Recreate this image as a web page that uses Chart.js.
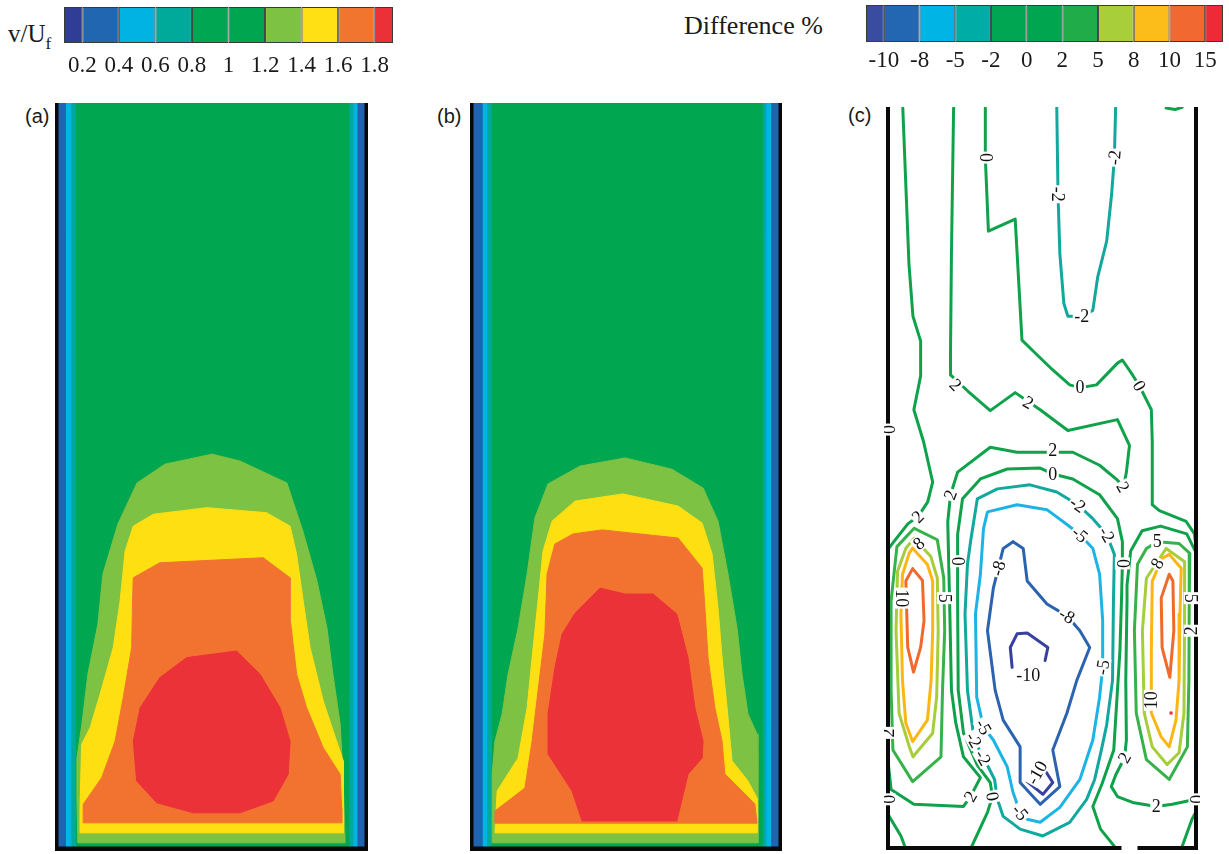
<!DOCTYPE html>
<html><head><meta charset="utf-8"><title>Velocity contours</title>
<script src="https://cdn.jsdelivr.net/npm/chart.js@4.4.1/dist/chart.umd.min.js"></script>
<style>
html,body{margin:0;padding:0;background:#fff}
body{width:1229px;height:854px;position:relative;overflow:hidden}
canvas,.t{position:absolute}
.serif{font-family:"Liberation Serif","Times New Roman",serif;color:#1a1a1a;line-height:1;white-space:nowrap}
.sans{font-family:"Liberation Sans",Arial,sans-serif;color:#1a1a1a;line-height:1;white-space:nowrap}
</style></head><body>
<div class="t serif" style="left:8px;top:21px;font-size:25px">v/U<span style="font-size:17px;position:relative;top:7px">f</span></div>
<div class="t serif" style="left:684px;top:13px;font-size:26px">Difference %</div>
<div class="t sans" style="left:25px;top:106px;font-size:20px">(a)</div>
<div class="t sans" style="left:437px;top:106px;font-size:20px">(b)</div>
<div class="t sans" style="left:848px;top:105px;font-size:20px">(c)</div>
<canvas id="cb1" width="329" height="66" style="left:64px;top:7px"></canvas>
<canvas id="cb2" width="357" height="67" style="left:866px;top:5px"></canvas>
<canvas id="pa" width="313" height="748" style="left:55px;top:103px"></canvas>
<canvas id="pb" width="312" height="748" style="left:470px;top:103px"></canvas>
<canvas id="pc" width="316" height="750" style="left:884px;top:103px"></canvas>
<script>
// ---------------- data ----------------
// all panels: x = % of column width (0-100), y = height in % of column width
const Y_MAX = 239;

// colour bars
const speedTicks = ['0.2','0.4','0.6','0.8','1','1.2','1.4','1.6','1.8'];
const speedColors = ['#2f3d94','#2166b1','#00b3e3','#00aa9a','#00a651','#00a54f','#7dc242','#fee014','#f1742f','#ec3038'];
const diffTicks = ['-10','-8','-5','-2','0','2','5','8','10','15'];
const diffColors = ['#394ca0','#2367b2','#00b5e5','#00aca6','#00a651','#00a54f','#21ac4a','#a8cf3a','#fcbd1a','#f16931','#ec2b36'];

// panel (a): filled contour regions v/Uf
const a_wallLeft = [6.4, 5.0, 3.2];      // outer edge of 0.6-0.8, 0.4-0.6, 0.2-0.4 bands
const a_wallRight = [94.2, 95.5, 96.8];
const a_band12 = [[7.3,2.6],[7.0,16.0],[7.0,29.7],[8.6,40.6],[10.5,56.5],[13.7,72.5],[15.3,88.5],[20.1,104.5],[26.2,117.6],[35.1,123.6],[50.2,126.8],[59.1,124.6],[74.1,117.6],[79.2,102.2],[83.7,86.3],[86.9,71.2],[88.8,56.5],[91.1,40.6],[92.0,24.6],[92.7,2.6]];
const a_band14 = [[8.0,5.8],[8.0,13.8],[8.5,34.1],[11.2,39.4],[14.4,50.1],[18.6,65.0],[20.8,79.9],[22.4,95.8],[25.0,103.8],[31.4,107.6],[48.5,109.7],[67.6,108.1],[75.1,103.8],[77.2,94.8],[79.3,79.9],[81.5,65.0],[85.7,47.9],[88.9,38.3],[92.1,28.8],[92.1,5.8]];
const a_band16 = [[9.0,9.0],[9.0,14.9],[14.9,23.4],[19.2,35.1],[21.8,49.0],[24.5,65.0],[24.8,80.9],[25.0,87.3],[33.5,92.1],[66.5,93.7],[75.1,87.3],[75.1,74.5],[77.2,56.5],[80.4,45.8],[85.7,33.0],[91.1,24.5],[91.6,13.8],[91.6,9.0]];
const a_band18 = [[42.1,61.8],[58.0,63.9],[65.5,56.5],[71.9,45.8],[75.1,35.1],[74.5,24.5],[69.7,16.0],[59.1,12.2],[44.2,12.2],[32.5,15.4],[26.1,22.4],[25.0,35.1],[27.2,45.8],[33.5,55.4]];

// panel (b)
const b_wallLeft = [6.7, 5.3, 3.8];
const b_wallRight = [94.0, 95.1, 96.7];
const b_band12 = [[7.1,2.6],[7.1,24.6],[8.0,35.1],[10.3,43.8],[12.2,56.5],[15.4,71.2],[18.3,88.5],[20.8,106.4],[25.0,117.3],[35.3,123.0],[49.7,125.6],[64.7,122.0],[74.7,116.0],[79.5,105.4],[82.7,88.5],[85.6,71.2],[87.2,56.5],[89.1,43.8],[92.0,37.4],[92.3,24.6],[92.3,2.6]];
const b_band14 = [[8.0,5.8],[8.7,19.2],[15.4,29.7],[18.3,45.7],[19.9,61.7],[21.8,79.9],[23.4,95.8],[26.3,105.4],[33.7,111.8],[49.0,114.1],[66.7,110.2],[74.4,104.8],[77.6,94.9],[79.5,77.6],[80.8,61.7],[82.4,45.7],[84.0,28.8],[89.1,22.4],[92.0,16.9],[92.0,5.8]];
const b_band16 = [[8.0,8.9],[8.0,12.8],[17.6,20.1],[19.9,35.1],[21.8,51.1],[24.0,69.3],[24.7,88.5],[27.2,98.1],[33.0,101.3],[42.3,102.6],[66.7,100.0],[74.4,90.4],[75.3,77.6],[76.3,61.7],[78.5,45.7],[80.8,35.1],[81.7,24.6],[91.3,15.0],[92.0,8.9]];
const b_band18 = [[41.7,84.0],[49.7,82.1],[58.7,82.1],[66.3,75.7],[69.9,61.7],[72.1,45.7],[74.7,35.1],[74.4,29.7],[69.9,24.6],[66.3,9.6],[35.9,9.6],[32.7,19.2],[25.0,31.0],[25.0,43.8],[27.2,58.5],[29.5,69.3],[33.7,76.0]];

// panel (c): difference contour lines
const c_line2 = [[21.3,238.7],[20.6,191.7],[20.3,160.7],[20.3,152.7],[25.8,147.6],[33.2,141.2],[41.3,147.0],[49.4,141.5],[58.4,134.8],[74.5,138.3],[78.4,130.0],[77.4,121.4],[76.5,116.6],[74.5,118.8],[68.7,123.6],[60.0,127.8],[41.9,127.8],[33.2,129.4],[22.6,121.4],[20.3,114.1],[19.4,105.4],[20.0,79.9],[20.6,51.1],[22.0,40.6],[24.5,29.7],[30.0,23.0],[26.8,16.9],[24.5,13.7],[8.4,14.4],[1.0,19.2],[0,28.4],[0,96.5],[1.9,99.0],[6.5,104.8],[9.7,107.0],[12.9,111.8],[14.5,118.2],[11.6,131.0],[8.4,141.5],[10.6,152.4],[10.6,163.6],[8.1,171.6],[6.8,188.5],[4.8,238.7]];
const c_line0 = [[31.6,238.7],[31.6,222.7],[32.6,199.0],[41.3,202.9],[43.5,163.9],[47.1,160.4],[53.5,154.3],[59.0,149.5],[62.3,148.6],[67.7,149.5],[74.5,156.5],[76.1,157.5],[79.4,152.7],[81.6,149.2],[85.5,141.5],[85.8,131.0],[85.8,110.9],[88.1,109.0],[96.8,105.5],[99.5,101.5],[100,97]];
const c_line0Inner = [[26.8,0],[32.3,11.8],[33.9,16.9],[33.2,21.4],[29.0,27.0],[24.5,37.4],[22.8,51.1],[22.6,79.9],[22.6,92.7],[22.6,101.3],[24.2,112.8],[30.0,119.2],[38.7,122.4],[49.4,122.7],[53.5,120.8],[60.0,119.2],[68.7,114.1],[74.5,106.4],[76.1,99.0],[76.1,92.0],[75.8,79.9],[75.3,63.9],[74.5,51.1],[73.3,31.9],[69.5,21.0],[66.5,13.7],[69.0,6.4],[74.2,0]];
const c_line0Left = [[0,11.2],[4.2,4.2],[5.8,0]];
const c_line0Right = [[100,12.0],[98.7,9.6],[95.2,0]];
const c_line2Right = [[100,95.5],[97.0,101.5],[88.5,104.0],[82.5,102.5],[78.8,96.0],[77.6,85.0],[77.6,79.9],[77.2,54.3],[77.4,35.1],[76.8,29.4],[74.0,24.0],[72.5,20.1],[74.5,16.9],[79.4,15.0],[87.1,13.7],[92.3,14.4],[100,16.0]];
const c_topStub = [[90.3,238.7],[93.2,238.2],[95.5,238.9]];
const c_lineM2Top = [[54.8,238.7],[55.2,210.9],[55.8,191.7],[57.1,175.7],[58.4,171.6],[62.9,171.6],[66.5,173.5],[68.1,184.3],[71.0,195.8],[72.6,210.9],[73.5,222.7],[73.9,238.7]];
const c_loopM2 = [[26.8,99.0],[29.0,112.8],[35.5,116.0],[46.1,117.3],[54.8,115.0],[61.6,110.9],[66.5,106.4],[71.0,101.3],[73.5,94.9],[73.2,79.9],[72.9,54.3],[71.0,40.0],[69.3,32.0],[67.1,22.4],[64.5,16.0],[59.0,8.6],[50.3,4.2],[42.9,6.4],[37.4,10.5],[35.5,16.0],[34.6,22.4],[31.5,28.5],[28.0,35.1],[25.8,51.1],[25.0,75.7],[25.8,91.7],[26.8,99.0]];
const c_loopM5 = [[31.0,103.2],[32.3,108.6],[41.9,110.9],[51.6,109.3],[58.1,104.5],[62.3,101.3],[66.5,96.8],[68.7,88.5],[69.7,73.5],[69.7,58.5],[68.7,48.9],[66.5,35.1],[62.3,22.4],[55.8,13.4],[49.4,8.6],[45.2,9.6],[42.9,11.8],[40.6,18.2],[38.7,26.5],[34.2,35.1],[31.0,39.3],[28.8,48.9],[28.4,75.7],[30.0,88.5],[31.0,103.2]];
const c_loopM8 = [[40.6,99.0],[43.9,96.8],[45.2,86.3],[51.6,78.9],[58.1,75.1],[62.3,70.3],[65.5,64.9],[61.3,54.3],[58.1,43.8],[53.5,31.9],[55.8,20.1],[49.4,14.4],[42.9,21.4],[42.9,32.9],[37.4,41.5],[34.8,51.1],[32.3,70.3],[34.2,84.0],[35.8,90.4],[37.4,96.8],[40.6,99.0]];
const c_loopM10Upper = [[40.3,58.5],[39.7,64.9],[41.9,69.3],[45.2,69.6],[51.9,64.9],[51.0,60.7]];
const c_loopM10Lower = [[45.2,21.7],[49.4,27.8],[53.5,21.4],[50.3,17.6],[45.2,21.7]];
const c_left5 = [[8.5,103.3],[16.0,99.6],[18.1,87.3],[18.4,70.3],[17.7,51.1],[17.2,29.7],[8.0,21.7],[1.6,31.9],[1.0,51.1],[1.0,79.9],[2.9,97.4],[8.5,103.3]];
const c_left8 = [[8.5,100.1],[13.9,94.2],[16.0,87.3],[16.3,70.3],[15.8,49.0],[14.5,37.3],[8.1,29.7],[6.9,33.0],[3.6,43.7],[2.6,70.3],[3.1,89.5],[5.8,96.9],[8.5,100.1]];
const c_left10 = [[8.0,96.9],[12.8,91.6],[14.5,86.3],[14.5,70.3],[14.0,54.3],[12.8,41.5],[8.0,34.6],[5.8,40.5],[4.7,54.3],[4.2,75.6],[4.7,88.4],[6.9,95.3],[8.0,96.9]];
const c_left15 = [[8.0,90.3],[11.2,86.5],[11.7,73.5],[10.6,65.0],[8.3,57.0],[6.4,65.0],[5.8,86.3],[8.0,90.3]];
const c_right5 = [[83.9,96.8],[87.4,99.0],[94.5,98.4],[98.0,95.2],[97.8,79.9],[97.7,54.3],[97.2,32.9],[91.3,22.4],[83.9,28.8],[80.6,43.8],[80.0,70.3],[81.0,91.7],[83.9,96.8]];
const c_right8 = [[90.3,96.8],[96.3,92.5],[96.3,75.7],[96.1,43.8],[94.5,31.0],[90.6,27.2],[85.8,32.9],[83.2,43.8],[82.6,70.3],[83.9,87.2],[90.3,96.8]];
const c_right10 = [[91.3,94.9],[95.2,90.4],[94.8,75.7],[94.5,54.3],[93.5,41.5],[91.3,32.9],[88.7,36.1],[85.5,43.8],[85.5,64.9],[85.8,86.3],[89.0,93.6],[91.3,94.9]];
const c_right15 = [[91.3,88.5],[92.5,86.3],[92.8,70.3],[91.5,55.3],[89.0,64.9],[88.7,80.8],[91.3,88.5]];
const c_redSpot = [[91.9,43.8]];
const c_bottomGap = [75.8, 81.0];
// contour labels: text, x, y, rotation (deg)
const c_labels = [
  ['0',31.6,222.7,90],['-2',55.2,210.9,90],['-2',73.5,222.7,-85],['-2',62.9,171.6,0],
  ['2',21.9,149.5,45],['2',45.5,143.8,30],['0',62.3,148.6,0],['0',81.6,149.2,60],
  ['0',0,135.1,90],['2',53.5,128.4,0],['2',76.3,116.6,60],['2',20.3,114.1,-70],
  ['2',9.7,107.0,-45],['0',53.5,120.8,0],['-2',61.6,110.9,35],['-2',71.0,101.3,60],
  ['-5',62.3,101.3,40],['0',22.6,92.7,90],['0',76.1,92.0,90],['-8',35.8,90.4,-75],
  ['-8',58.1,75.1,30],['8',10.0,98.4,-40],['5',87.4,99.0,0],['8',87.4,92.0,-60],
  ['10',4.4,80.8,90],['5',18.3,80.8,90],['5',98.4,80.8,90],['2',98.4,70.3,-90],
  ['-10',45.5,56.0,0],['-5',69.7,58.5,-80],['10',85.5,47.9,-90],['2',0,37.4,-90],
  ['-5',31.0,39.3,60],['-2',27.8,35.1,60],['-2',30.8,29.4,60],['2',76.8,29.4,-60],
  ['-10',48.4,24.6,-60],['0',33.9,16.9,80],['2',26.8,16.9,-60],['-5',42.9,11.8,50],
  ['2',87.1,13.7,0],['0',0,16.0,90],['0',100,16.0,90]
];

// ---------------- styles ----------------
const fillGreen = '#00a650', fill12 = '#7dc243', fill14 = '#fee012', fill16 = '#f27330', fill18 = '#ec3239';
const wallColors = ['#00a99b', '#00b4e4', '#2063ae'];
const cGreen = '#0fa24b', c5 = '#37b24a', c8 = '#a6cd3a', c10 = '#fbb615', c15 = '#f16a2c',
      cTeal = '#12a89e', cCyan = '#1cb4e5', cBlue = '#2c63ae', cNavy = '#3940a0', cRed = '#ed3237';

// ---------------- helpers ----------------
const pts = arr => arr.map(([x, y]) => ({x, y}));
const ring = arr => pts(arr.concat([arr[0]]));
const area = (arr, color) => ({data: ring(arr), showLine: true, fill: 'shape', backgroundColor: color,
  borderColor: color, borderWidth: 1, pointRadius: 0, tension: 0});
const line = (arr, color) => ({data: pts(arr), showLine: true, fill: false, borderColor: color,
  borderWidth: 3, pointRadius: 0, tension: 0, borderJoinStyle: 'round', borderCapStyle: 'round'});

function wallBands(left, right) {
  const out = [];
  wallColors.forEach((c, i) => {
    out.push(area([[0,0],[0,Y_MAX],[left[i],Y_MAX],[left[i],0]], c));
    out.push(area([[right[i],0],[right[i],Y_MAX],[100,Y_MAX],[100,0]], c));
  });
  return out;
}

function colorbar(id, colors, ticks, offset) {
  const n = ticks.length;
  const datasets = colors.map((c, i) => ({
    data: [[i === 0 ? -0.5 : i - 1, i === colors.length - 1 ? n - 0.5 : i]],
    backgroundColor: c, borderColor: '#3a3a3a', borderWidth: 1, borderSkipped: false,
    grouped: false, barPercentage: 1, categoryPercentage: 1, inflateAmount: 0
  }));
  const tickPlugin = {id: 'cbTicks', afterDraw(chart) {
    const {ctx, chartArea: a, scales: {x}} = chart;
    ctx.save();
    ctx.font = '23px "Liberation Serif"';
    ctx.fillStyle = '#1a1a1a'; ctx.textAlign = 'center'; ctx.textBaseline = 'middle';
    ticks.forEach((t, i) => ctx.fillText(t, x.getPixelForValue(i), a.bottom + offset));
    ctx.restore();
  }};
  return new Chart(document.getElementById(id), {
    type: 'bar',
    data: {labels: [''], datasets},
    options: {
      indexAxis: 'y', responsive: false, animation: false, events: [],
      layout: {padding: {bottom: 30}},
      plugins: {legend: {display: false}, tooltip: {enabled: false}},
      scales: {x: {type: 'linear', min: -0.5, max: n - 0.5, display: false},
               y: {display: false}}
    },
    plugins: [tickPlugin]
  });
}

function panel(id, datasets, plugin, padding) {
  return new Chart(document.getElementById(id), {
    type: 'scatter',
    data: {datasets: datasets.slice().reverse()},
    options: {
      responsive: false, animation: false, events: [],
      layout: {padding: padding || 0},
      plugins: {legend: {display: false}, tooltip: {enabled: false}},
      scales: {x: {type: 'linear', min: 0, max: 100, display: false},
               y: {type: 'linear', min: 0, max: Y_MAX, display: false}}
    },
    plugins: [plugin]
  });
}

const wallsAB = {id: 'wallsAB', afterDatasetsDraw(chart) {
  const {ctx, chartArea: a} = chart;
  ctx.save(); ctx.fillStyle = '#080808';
  ctx.fillRect(a.left, a.top, 3.5, a.height);
  ctx.fillRect(a.right - 3.5, a.top, 3.5, a.height);
  ctx.fillRect(a.left, a.bottom - 4.5, a.width, 4.5);
  ctx.restore();
}};

const wallsC = {id: 'wallsC', afterDatasetsDraw(chart) {
  const {ctx, chartArea: a, scales: {x, y}} = chart;
  ctx.save(); ctx.fillStyle = '#0a0a0a';
  ctx.fillRect(a.left - 2, a.top, 4, a.bottom - a.top + 1);
  ctx.fillRect(a.right - 2, a.top, 4, a.bottom - a.top + 1);
  const g0 = x.getPixelForValue(c_bottomGap[0]), g1 = x.getPixelForValue(c_bottomGap[1]);
  ctx.fillRect(a.left - 2, a.bottom - 3, g0 - (a.left - 2), 4);
  ctx.fillRect(g1, a.bottom - 3, a.right + 2 - g1, 4);
  ctx.font = '18px "Liberation Serif"';
  ctx.textAlign = 'center'; ctx.textBaseline = 'middle';
  for (const [t, vx, vy, ang] of c_labels) {
    ctx.save();
    ctx.translate(x.getPixelForValue(vx), y.getPixelForValue(vy));
    ctx.rotate(ang * Math.PI / 180);
    const w = ctx.measureText(t).width + 3;
    ctx.fillStyle = '#fff'; ctx.fillRect(-w / 2, -7.5, w, 15);
    ctx.fillStyle = '#111'; ctx.fillText(t, 0, 1);
    ctx.restore();
  }
  ctx.restore();
}};

// ---------------- build ----------------
colorbar('cb1', speedColors, speedTicks, 23);
colorbar('cb2', diffColors, diffTicks, 19);

const full = [[0,0],[0,Y_MAX],[100,Y_MAX],[100,0]];
panel('pa', [area(full, fillGreen), ...wallBands(a_wallLeft, a_wallRight),
  area(a_band12, fill12), area(a_band14, fill14), area(a_band16, fill16), area(a_band18, fill18)], wallsAB);
panel('pb', [area(full, fillGreen), ...wallBands(b_wallLeft, b_wallRight),
  area(b_band12, fill12), area(b_band14, fill14), area(b_band16, fill16), area(b_band18, fill18)], wallsAB);

panel('pc', [
  line(c_line2, cGreen), line(c_line0, cGreen), line(c_line0Inner, cGreen),
  line(c_line0Left, cGreen), line(c_line0Right, cGreen), line(c_line2Right, cGreen), line(c_topStub, cGreen),
  line(c_lineM2Top, cTeal), line(c_loopM2, cTeal), line(c_loopM5, cCyan), line(c_loopM8, cBlue),
  line(c_loopM10Upper, cNavy), line(c_loopM10Lower, cNavy),
  line(c_left5, c5), line(c_left8, c8), line(c_left10, c10), line(c_left15, c15),
  line(c_right5, c5), line(c_right8, c8), line(c_right10, c10), line(c_right15, c15),
  {data: pts(c_redSpot), showLine: false, pointStyle: 'rect', pointRadius: 2.2,
   backgroundColor: cRed, borderColor: cRed, borderWidth: 0}
], wallsC, {left: 3, right: 3, top: 0, bottom: 2});
</script>
</body></html>
